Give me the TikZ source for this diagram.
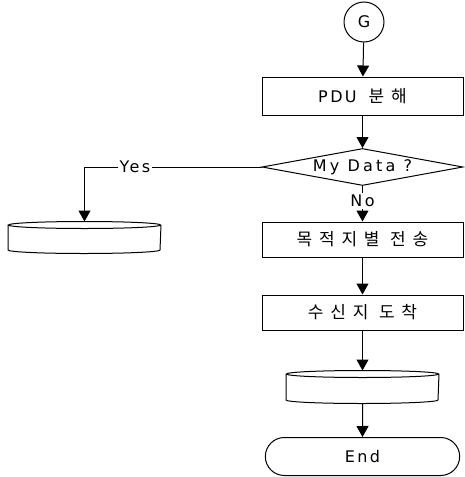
\documentclass[tikz,border=0pt]{standalone}
\usepackage{fontspec}
\setmainfont{Noto Sans CJK KR}[LetterSpace = 40]
\newfontfamily\latfont{DejaVu Sans}[LetterSpace = 15]
\usepackage{tikz}
\usetikzlibrary{calc, arrows.meta, shapes.geometric, shapes.misc}

\begin{document}
\begin{tikzpicture}[x = 1pt, y = -1pt, line width = 1pt,
  font = \fontsize{16}{18}\selectfont,
  flow/.style = {-{Triangle[width = 12pt, length = 11pt]}},
  procbox/.style = {draw, rectangle, minimum width = 201pt, minimum height = 36pt},
  krtext/.style = {font = \fontsize{17}{19}\selectfont},
  storage/.style = {rectangle, minimum width = 152pt, minimum height = 32pt, inner sep = 0pt},
  tag/.style = {fill = white, inner sep = 2pt}]
  \useasboundingbox (0, 0) rectangle (464, 477);

  \node[draw, circle, minimum size = 40pt, inner sep = 0pt] (G) at (364, 22) {\latfont G};
  \node[procbox, minimum height = 38pt] (pdu) at (362.5, 96)
    {\latfont PDU\hspace{12pt}\fontsize{17}{19}\selectfont\rmfamily 분해};
  \node[draw, diamond, aspect = 5.4, inner sep = 0pt, minimum width = 201pt,
    minimum height = 37pt] (mydata) at (362.5, 167) {\latfont\addfontfeatures{LetterSpace = 20}My Data ?};
  \node[procbox, krtext, minimum height = 35pt] (dest) at (362.5, 239.5) {목적지별 전송};
  \node[procbox, krtext, minimum height = 35pt] (arrive) at (362.5, 312.5) {수신지 도착};
  \node[storage] (disk2) at (362.5, 387) {};
  \node[draw, rounded rectangle, minimum width = 201pt, minimum height = 38pt]
    (end) at (362.5, 456.5) {\latfont End};
  \node[storage, minimum height = 31pt] (disk1) at (84.5, 237.5) {};

  % disk outlines: top ellipse, sides, lower half ellipse
  \foreach \d in {disk1, disk2}
    \draw ($(\d.north west) + (0, 3.5)$) -- ($(\d.south west) + (0, -3.5)$)
      arc[start angle = 180, end angle = 360, x radius = 76pt, y radius = 3.5pt]
      -- ($(\d.north east) + (0, 3.5)$)
      ($(\d.north) + (0, 3.5)$) ellipse[x radius = 76pt, y radius = 3.5pt];

  \draw[flow] (G) -- (pdu);
  \draw[flow] (pdu) -- (mydata);
  \draw[flow] (mydata.south) -- node[pos = .43, tag] {\latfont No} (dest.north);
  \draw[flow] (mydata.west) -- node[pos = .715, tag] {\latfont Yes}
    (mydata.west -| disk1.north) -- (disk1.north);
  \draw[flow] (dest) -- (arrive);
  \draw[flow] (arrive) -- (disk2);
  \draw[flow] (disk2) -- (end);
\end{tikzpicture}
\end{document}
